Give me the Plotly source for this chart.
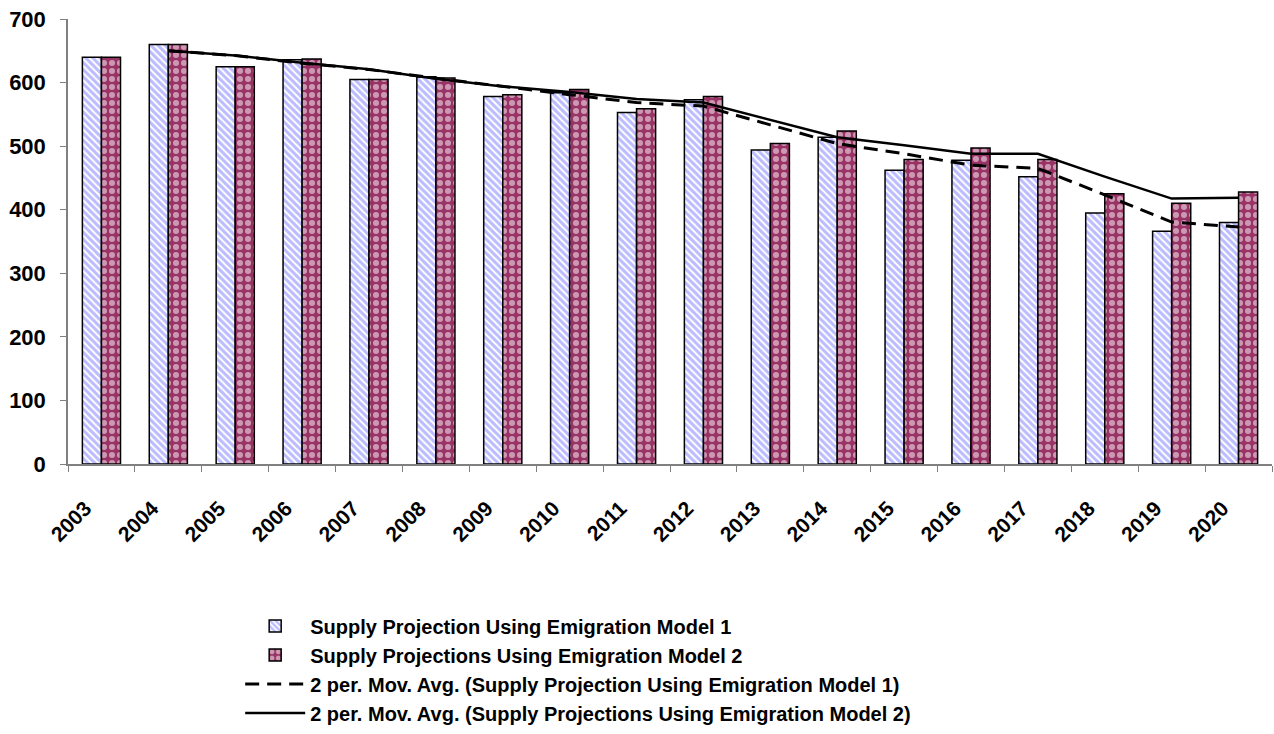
import plotly.graph_objects as go
import pandas as pd

years = [str(y) for y in range(2003, 2021)]
model1 = [640, 660, 625, 636, 605, 609, 578, 584, 553, 573, 494, 514, 462, 478, 452, 395, 366, 380]
model2 = [640, 660, 625, 637, 605, 607, 581, 589, 559, 578, 504, 524, 479, 497, 479, 425, 410, 428]

name1 = "Supply Projection Using Emigration Model 1"
name2 = "Supply Projections Using Emigration Model 2"

ma1 = pd.Series(model1).rolling(2).mean().tolist()
ma2 = pd.Series(model2).rolling(2).mean().tolist()

FONT = "Arial, 'Liberation Sans', sans-serif"

fig = go.Figure()
fig.add_trace(go.Bar(
    x=years, y=model1, name=name1,
    marker=dict(color="white", line=dict(color="black", width=1.5),
                pattern=dict(shape="\\", fgcolor="#7777ff", bgcolor="white", size=5, solidity=0.6)),
))
fig.add_trace(go.Bar(
    x=years, y=model2, name=name2,
    marker=dict(color="#993366", line=dict(color="black", width=1.5),
                pattern=dict(shape=".", fgcolor="white", bgcolor="#993366", size=8, solidity=0.45)),
))
fig.add_trace(go.Scatter(
    x=years, y=ma1, mode="lines", name="2 per. Mov. Avg. (" + name1 + ")",
    line=dict(color="black", width=3, dash="14px,8px"),
))
fig.add_trace(go.Scatter(
    x=years, y=ma2, mode="lines", name="2 per. Mov. Avg. (" + name2 + ")",
    line=dict(color="black", width=2.5),
))

fig.update_layout(
    width=1274, height=734,
    paper_bgcolor="white", plot_bgcolor="white",
    margin=dict(l=68, r=2, t=19, b=266),
    barmode="group", bargap=0.43, bargroupgap=0,
    font=dict(family=FONT, size=20, color="black"),
    showlegend=True,
    legend=dict(
        orientation="v", x=0.143, xanchor="left", y=-0.32, yanchor="top",
        font=dict(family=FONT, size=20, color="black", weight="bold"),
        tracegroupgap=0, itemwidth=60, bgcolor="rgba(0,0,0,0)",
    ),
    xaxis=dict(
        type="category", tickangle=-45, ticks="outside", tickson="boundaries",
        ticklen=6, tickcolor="#808080", showline=True, linecolor="#808080",
        linewidth=1.5, showgrid=False, automargin=False,
        ticklabelstandoff=22, ticklabelshift=-16,
        tickfont=dict(family=FONT, size=21, color="black", weight="bold"),
    ),
    yaxis=dict(
        range=[0, 700], dtick=100, ticks="outside", ticklen=6, tickcolor="#808080",
        showline=True, linecolor="#808080", linewidth=1.5, showgrid=False, zeroline=False,
        automargin=False, ticklabelstandoff=10,
        tickfont=dict(family=FONT, size=22, color="black", weight="bold"),
    ),
)

fig.write_html("out.html", post_script="document.body.style.margin='0';",
               config={"displayModeBar": False})
